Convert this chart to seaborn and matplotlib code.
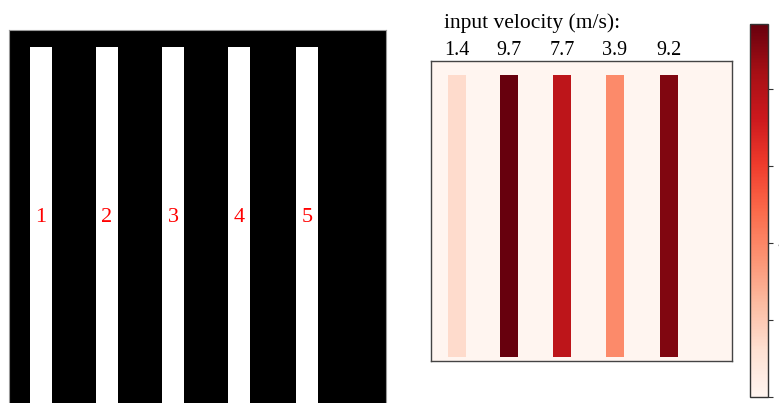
import numpy as np
import pandas as pd
import matplotlib
matplotlib.use("Agg")
import matplotlib.pyplot as plt
import seaborn as sns

# ---- data ----
channel_labels = ["1", "2", "3", "4", "5"]
velocities = [1.4, 9.7, 7.7, 3.9, 9.2]          # input velocity (m/s)
grid_n = 200                                    # mask resolution
stripe_starts = [11, 46, 81, 116, 152]          # column where each channel starts
stripe_width = 12
stripe_top, stripe_bottom = 9, 197
cbar_ticks = [0, 2, 4, 6, 8]

# ---- build matrices ----
mask = np.zeros((grid_n, grid_n))
vel = np.zeros((grid_n, grid_n))
for s, v in zip(stripe_starts, velocities):
    mask[stripe_top:stripe_bottom + 3, s:s + stripe_width] = 1.0
    vel[stripe_top:stripe_bottom, s:s + stripe_width] = v
mask_df = pd.DataFrame(mask)
vel_df = pd.DataFrame(vel)

sns.set_theme(style="white")
plt.rcParams["font.family"] = ["DejaVu Sans"]
serif = ["Liberation Serif", "DejaVu Serif"]

W, H = 779, 403
fig = plt.figure(figsize=(W / 100, H / 100), dpi=100)

def box(x0, y0, w, h):
    return [x0 / W, 1 - (y0 + h) / H, w / W, h / H]

# ---- left panel: binary channel mask ----
axl = fig.add_axes(box(9, 30, 377, 377))
sns.heatmap(mask_df, ax=axl, cmap="gray", vmin=0, vmax=1, cbar=False,
            xticklabels=False, yticklabels=False)
for sp in axl.spines.values():
    sp.set_visible(True)
    sp.set_color("#999999")
    sp.set_linewidth(0.8)
ybase = grid_n * 0.51
for s, lab in zip(stripe_starts, channel_labels):
    axl.text(s + stripe_width / 2, ybase, lab, color="red", ha="center",
             va="baseline", fontsize=16, family=serif)

# ---- right panel: velocity heatmap ----
axr = fig.add_axes(box(431, 61, 301, 300))
cax = fig.add_axes(box(750, 24, 18, 373))
sns.heatmap(vel_df, ax=axr, cmap="Reds", vmin=0, vmax=max(velocities),
            cbar_ax=cax, xticklabels=False, yticklabels=False)
for sp in axr.spines.values():
    sp.set_visible(True)
    sp.set_color("#444444")
    sp.set_linewidth(1.0)
axr.xaxis.tick_top()
axr.set_xticks([s + stripe_width / 2 for s in stripe_starts])
axr.set_xticklabels([f"{v:.1f}" for v in velocities], fontsize=14.5,
                    family=serif, color="black")
axr.tick_params(axis="x", length=0, pad=1, top=True, bottom=False)
axr.set_xlabel("")
axr.set_ylabel("")

cb = axr.collections[0].colorbar
cb.set_ticks(cbar_ticks)
cax.tick_params(axis="y", length=3.5, width=0.8, labelsize=10, right=True,
                colors="#333333")
cb.outline.set_visible(True)
cb.outline.set_edgecolor("#333333")
cb.outline.set_linewidth(1.0)

fig.text(444 / W, 1 - 28 / H, "input velocity (m/s):", ha="left",
         va="baseline", fontsize=15.5, family=serif, color="black")

fig.savefig("out.png", dpi=100)
